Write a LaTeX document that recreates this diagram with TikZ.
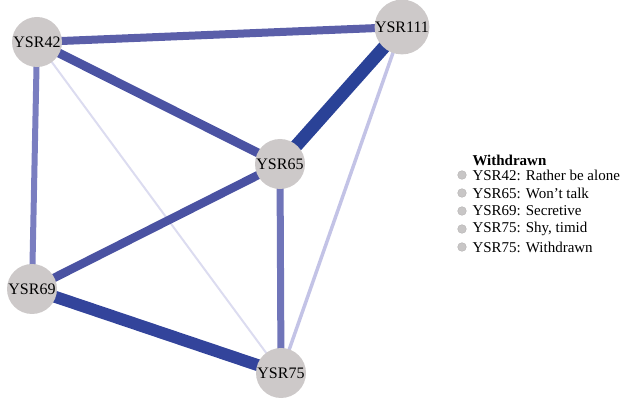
\documentclass[tikz,border=0pt]{standalone}
\usepackage{fontspec}
\setmainfont{Liberation Serif}
\usetikzlibrary{backgrounds}

\tikzset{every picture/.style={line width=0.75pt}}
\tikzset{
	item/.style={circle, fill={rgb, 255:red, 205; green, 201; blue, 201 }, draw=none, minimum size=37.5pt, inner sep=0pt, font=\fontsize{12}{14}\selectfont},
	bullet/.style={circle, fill={rgb, 255:red, 200; green, 198; blue, 198 }, draw={rgb, 255:red, 180; green, 178; blue, 178 }, line width=0.3pt, minimum size=6.5pt, inner sep=0pt},
	legtext/.style={anchor=west, inner sep=0pt, font=\fontsize{11.25}{13}\selectfont}
}

\begin{document}
\begin{tikzpicture}[x=0.75pt,y=0.75pt,yscale=-1,xscale=1]
	\useasboundingbox (0,0) rectangle (622,399);

	% Text Node
	\node [item] (ysr42) at (37,42) {YSR42};
	% Text Node
	\node [item, minimum size=40pt] (ysr111) at (402,27) {YSR111};
	% Text Node
	\node [item] (ysr65) at (280,164) {YSR65};
	% Text Node
	\node [item] (ysr69) at (32,289) {YSR69};
	% Text Node
	\node [item] (ysr75) at (281,373) {YSR75};

	\begin{scope}[on background layer]
	%Straight Lines
	\draw [color={rgb, 255:red, 91; green, 95; blue, 169 }, line width=6pt] (ysr42.center) -- (ysr111.center) ;
	%Straight Lines
	\draw [color={rgb, 255:red, 75; green, 83; blue, 163 }, line width=6.75pt] (ysr42.center) -- (ysr65.center) ;
	%Straight Lines
	\draw [color={rgb, 255:red, 122; green, 126; blue, 192 }, line width=4.5pt] (ysr42.center) -- (ysr69.center) ;
	%Straight Lines
	\draw [color={rgb, 255:red, 220; green, 220; blue, 240 }, line width=1.5pt] (ysr42.center) -- (ysr75.center) ;
	%Straight Lines
	\draw [color={rgb, 255:red, 42; green, 66; blue, 151 }, line width=9.75pt] (ysr111.center) -- (ysr65.center) ;
	%Straight Lines
	\draw [color={rgb, 255:red, 195; green, 195; blue, 230 }, line width=2.6pt] (ysr111.center) -- (ysr75.center) ;
	%Straight Lines
	\draw [color={rgb, 255:red, 74; green, 82; blue, 162 }, line width=6.4pt] (ysr65.center) -- (ysr69.center) ;
	%Straight Lines
	\draw [color={rgb, 255:red, 112; green, 117; blue, 185 }, line width=5.25pt] (ysr65.center) -- (ysr75.center) ;
	%Straight Lines
	\draw [color={rgb, 255:red, 51; green, 68; blue, 155 }, line width=9pt] (ysr69.center) -- (ysr75.center) ;
	\end{scope}

	% Text Node
	\node [legtext, font=\fontsize{11.25}{13}\selectfont\bfseries] (legtitle) at (472,160) {Withdrawn};
	% Text Node
	\node [bullet] (b42) at (462,175) {};
	\node [legtext] (t42) at (472,175) {YSR42: Rather be alone};
	% Text Node
	\node [bullet] (b65) at (462,193) {};
	\node [legtext] (t65) at (472,193) {YSR65: Won’t talk};
	% Text Node
	\node [bullet] (b69) at (462,211) {};
	\node [legtext] (t69) at (472,211) {YSR69: Secretive};
	% Text Node
	\node [bullet] (b75a) at (462,229) {};
	\node [legtext] (t75a) at (472,229) {YSR75: Shy, timid};
	% Text Node
	\node [bullet] (b75b) at (462,247) {};
	\node [legtext] (t75b) at (472,247) {YSR75: Withdrawn};

\end{tikzpicture}
\end{document}
